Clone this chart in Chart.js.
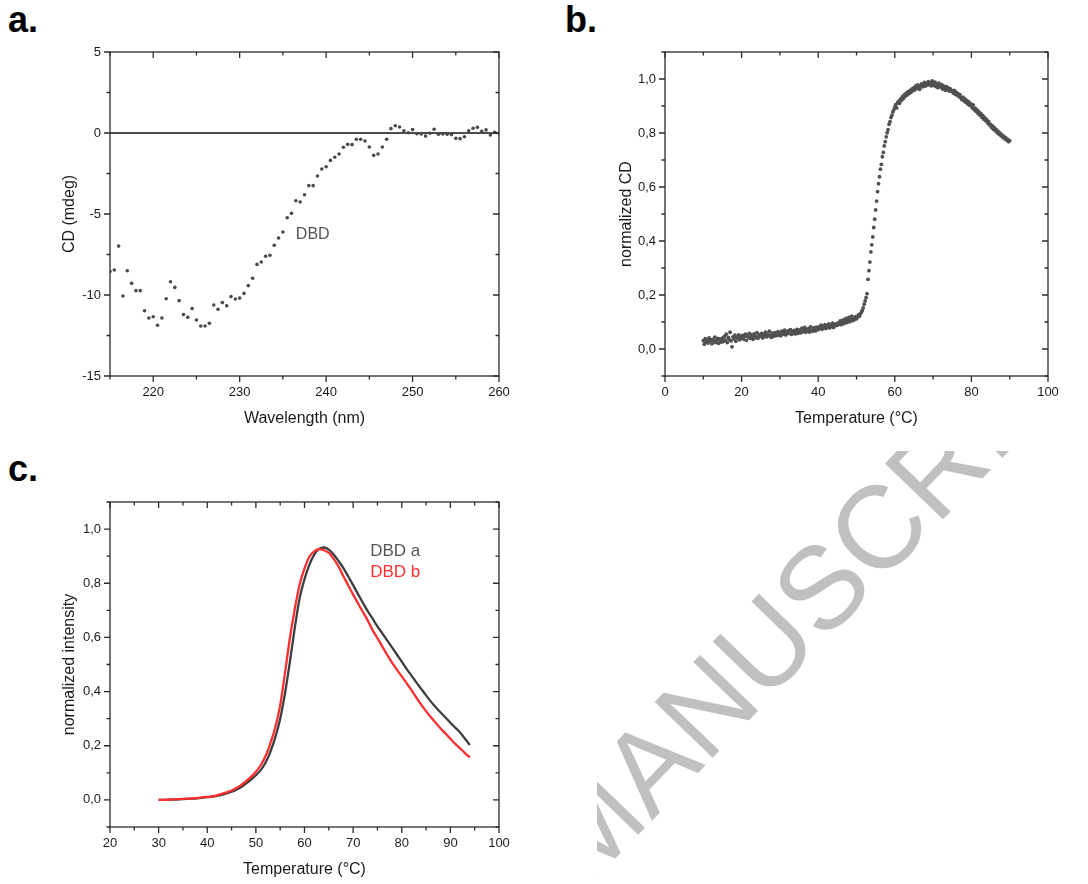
<!DOCTYPE html>
<html>
<head>
<meta charset="utf-8">
<script src="https://cdn.jsdelivr.net/npm/chart.js@4.4.1/dist/chart.umd.min.js"></script>
<style>
  body { margin: 0; background: #fff; width: 1088px; height: 884px; overflow: hidden; position: relative; font-family: "Liberation Sans", Arial, sans-serif; }
  .panel-label { position: absolute; font-weight: bold; font-size: 36px; line-height: 1; color: #000; }
  canvas { position: absolute; }
  svg { position: absolute; left: 0; top: 0; }
</style>
</head>
<body>
<svg width="1088" height="884">
  <defs><clipPath id="wmClip"><rect x="597" y="451" width="491" height="433"/></clipPath></defs>
  <g clip-path="url(#wmClip)">
    <text x="584" y="891" transform="rotate(-46 584 891)" font-family="Liberation Sans, Arial, sans-serif" font-size="117" fill="#c0c0c0">MANUSCRIPT</text>
  </g>
</svg>
<div class="panel-label" style="left:8px;top:2px">a.</div>
<div class="panel-label" style="left:565px;top:2px">b.</div>
<div class="panel-label" style="left:8px;top:451px">c.</div>
<canvas id="chartA" width="520" height="392" style="left:0;top:40px"></canvas>
<canvas id="chartB" width="532" height="392" style="left:556px;top:40px"></canvas>
<canvas id="chartC" width="520" height="393" style="left:0;top:490px"></canvas>
<script>
// panel a: CD spectrum
const wavelengthA = [215, 215.5, 216, 216.5, 217, 217.5, 218, 218.5, 219, 219.5,
  220, 220.5, 221, 221.5, 222, 222.5, 223, 223.5, 224, 224.5,
  225, 225.5, 226, 226.5, 227, 227.5, 228, 228.5, 229, 229.5,
  230, 230.5, 231, 231.5, 232, 232.5, 233, 233.5, 234, 234.5,
  235, 235.5, 236, 236.5, 237, 237.5, 238, 238.5, 239, 239.5,
  240, 240.5, 241, 241.5, 242, 242.5, 243, 243.5, 244, 244.5,
  245, 245.5, 246, 246.5, 247, 247.5, 248, 248.5, 249, 249.5,
  250, 250.5, 251, 251.5, 252, 252.5, 253, 253.5, 254, 254.5,
  255, 255.5, 256, 256.5, 257, 257.5, 258, 258.5, 259, 259.5, 260]
const cdA = [-8.55, -8.46, -6.98, -10.06, -8.50, -9.28, -9.73, -9.73, -10.97, -11.42,
  -11.34, -11.87, -11.42, -10.23, -9.18, -9.53, -10.35, -11.21, -11.38, -10.84,
  -11.54, -11.91, -11.91, -11.75, -10.62, -10.88, -10.47, -10.66, -10.10, -10.25,
  -10.19, -9.90, -9.42, -8.97, -8.11, -7.96, -7.61, -7.55, -6.93, -6.48,
  -6.11, -5.23, -4.96, -4.18, -4.26, -3.81, -3.25, -3.25, -2.65, -2.22,
  -2.08, -1.69, -1.50, -1.30, -0.88, -0.70, -0.72, -0.39, -0.39, -0.49,
  -0.86, -1.38, -1.30, -0.86, -0.39, 0.27, 0.45, 0.37, 0.14, 0.02,
  0.21, -0.04, -0.06, -0.19, -0.02, 0.23, -0.08, -0.06, -0.08, -0.10,
  -0.33, -0.35, -0.23, 0.14, 0.29, 0.35, 0.10, 0.19, -0.12, 0.04, -0.02]
const xTicksA = [220, 230, 240, 250, 260]
const yTicksA = [-15, -10, -5, 0, 5]

// panel b: thermal melt, scan from 10 to 90 °C every 0.25 °C
const scanStartB = 10
const scanStepB = 0.25
const normCdB = [
  0.031, 0.018, 0.038, 0.025, 0.034, 0.022, 0.041, 0.029, 0.035, 0.019, 0.036, 0.027, 0.044, 0.024, 0.032, 0.039, 0.021, 0.037, 0.030, 0.026,
  0.040, 0.028, 0.047, 0.033, 0.055, 0.024, 0.043, 0.036, 0.062, 0.030, 0.008, 0.045, 0.038, 0.051, 0.029, 0.044, 0.040, 0.052, 0.034, 0.046,
  0.041, 0.050, 0.037, 0.047, 0.055, 0.032, 0.048, 0.044, 0.058, 0.039, 0.052, 0.045, 0.036, 0.056, 0.049, 0.042, 0.061, 0.040, 0.053, 0.047,
  0.050, 0.058, 0.041, 0.054, 0.047, 0.062, 0.045, 0.055, 0.049, 0.066, 0.051, 0.043, 0.059, 0.053, 0.047, 0.061, 0.055, 0.050, 0.064, 0.052,
  0.058, 0.049, 0.066, 0.055, 0.061, 0.070, 0.052, 0.063, 0.057, 0.068, 0.059, 0.072, 0.054, 0.065, 0.060, 0.069, 0.056, 0.063, 0.073, 0.058,
  0.066, 0.071, 0.060, 0.077, 0.064, 0.069, 0.080, 0.062, 0.073, 0.068, 0.075, 0.063, 0.082, 0.070, 0.066, 0.078, 0.072, 0.067, 0.081, 0.074,
  0.071, 0.082, 0.077, 0.088, 0.073, 0.084, 0.079, 0.090, 0.076, 0.086, 0.081, 0.093, 0.078, 0.089, 0.084, 0.096, 0.080, 0.091, 0.087, 0.094,
  0.088, 0.097, 0.092, 0.104, 0.090, 0.099, 0.108, 0.094, 0.102, 0.113, 0.098, 0.106, 0.117, 0.101, 0.110, 0.122, 0.105, 0.114, 0.109, 0.120,
  0.112, 0.118, 0.126, 0.121, 0.130, 0.136, 0.143, 0.152, 0.166, 0.178, 0.190, 0.205, 0.258, 0.290, 0.322, 0.360, 0.386, 0.415, 0.450, 0.481,
  0.515, 0.548, 0.583, 0.612, 0.638, 0.666, 0.684, 0.712, 0.728, 0.752, 0.768, 0.786, 0.801, 0.812, 0.832, 0.842, 0.857, 0.866, 0.878, 0.886,
  0.897, 0.905, 0.893, 0.912, 0.918, 0.910, 0.926, 0.921, 0.935, 0.928, 0.942, 0.936, 0.948, 0.941, 0.953, 0.946, 0.958, 0.951, 0.963, 0.957,
  0.968, 0.960, 0.974, 0.965, 0.978, 0.970, 0.962, 0.976, 0.982, 0.971, 0.979, 0.987, 0.974, 0.983, 0.977, 0.990, 0.980, 0.985, 0.975, 0.993,
  0.983, 0.976, 0.988, 0.972, 0.980, 0.968, 0.985, 0.975, 0.970, 0.979, 0.963, 0.974, 0.968, 0.958, 0.972, 0.962, 0.967, 0.955, 0.963, 0.958,
  0.955, 0.948, 0.958, 0.944, 0.951, 0.940, 0.946, 0.935, 0.942, 0.930, 0.924, 0.933, 0.920, 0.927, 0.914, 0.921, 0.908, 0.916, 0.903, 0.910,
  0.900, 0.893, 0.904, 0.886, 0.892, 0.880, 0.886, 0.872, 0.878, 0.866, 0.872, 0.858, 0.864, 0.851, 0.857, 0.845, 0.849, 0.837, 0.842, 0.830,
  0.832, 0.821, 0.826, 0.814, 0.820, 0.808, 0.812, 0.801, 0.806, 0.795, 0.799, 0.789, 0.793, 0.783, 0.787, 0.778, 0.782, 0.773, 0.776, 0.768,
  0.772]
const xTicksB = [0, 20, 40, 60, 80, 100]
const yTicksNorm = [0, 0.2, 0.4, 0.6, 0.8, 1.0]

// panel c: intensity curves
const tempC = [30, 31, 32, 33, 34, 35, 36, 37, 38, 39, 40, 41, 42, 43, 44, 45, 46, 47, 48, 49,
  50, 51, 52, 53, 54, 55, 56, 57, 58, 59, 60, 61, 62, 63, 64, 65, 66, 67, 68, 69,
  70, 71, 72, 73, 74, 75, 76, 77, 78, 79, 80, 81, 82, 83, 84, 85, 86, 87, 88, 89,
  90, 91, 92, 93, 94]
const dbdA = [0.000, 0.000, 0.001, 0.001, 0.002, 0.003, 0.004, 0.005, 0.006, 0.008,
  0.010, 0.012, 0.015, 0.019, 0.024, 0.030, 0.038, 0.048, 0.061, 0.075,
  0.091, 0.110, 0.138, 0.178, 0.232, 0.300, 0.395, 0.510, 0.635, 0.745,
  0.815, 0.868, 0.906, 0.927, 0.932, 0.924, 0.906, 0.882, 0.856, 0.825,
  0.793, 0.760, 0.728, 0.697, 0.669, 0.641, 0.615, 0.589, 0.563, 0.537,
  0.511, 0.484, 0.459, 0.434, 0.410, 0.386, 0.363, 0.342, 0.323, 0.304,
  0.285, 0.267, 0.249, 0.226, 0.203]
const dbdB = [0.000, 0.000, 0.001, 0.002, 0.003, 0.004, 0.005, 0.006, 0.007, 0.009,
  0.011, 0.013, 0.017, 0.022, 0.028, 0.035, 0.044, 0.055, 0.069, 0.085,
  0.104, 0.128, 0.162, 0.210, 0.268, 0.350, 0.470, 0.598, 0.705, 0.795,
  0.855, 0.898, 0.918, 0.926, 0.922, 0.912, 0.890, 0.862, 0.826, 0.792,
  0.758, 0.726, 0.694, 0.663, 0.627, 0.597, 0.566, 0.536, 0.507, 0.481,
  0.456, 0.431, 0.405, 0.378, 0.352, 0.328, 0.305, 0.284, 0.264, 0.245,
  0.226, 0.207, 0.190, 0.173, 0.157]
const xTicksC = [20, 30, 40, 50, 60, 70, 80, 90, 100]

const FONT = '"Liberation Sans", Arial, sans-serif'
const INK = '#1a1a1a'
const comma = v => v.toFixed(1).replace('.', ',')

// box frame with major/minor ticks on all four sides (outward bottom/left, inward top/right)
const frameTicks = {
  id: 'frameTicks',
  beforeDatasetsDraw(chart, args, opts) {
    const { ctx, chartArea: a, scales: { y } } = chart
    if (opts.zeroLine) {
      const p = y.getPixelForValue(0)
      ctx.save()
      ctx.strokeStyle = '#111'
      ctx.lineWidth = 1.6
      ctx.beginPath()
      ctx.moveTo(a.left, p)
      ctx.lineTo(a.right, p)
      ctx.stroke()
      ctx.restore()
    }
  },
  afterDatasetsDraw(chart, args, opts) {
    const { ctx, chartArea: a, scales: { x, y } } = chart
    ctx.save()
    ctx.strokeStyle = '#2b2b2b'
    ctx.lineWidth = 1.3
    ctx.strokeRect(a.left, a.top, a.right - a.left, a.bottom - a.top)
    const marks = (scale, minor, major, draw) => {
      const start = Math.ceil(scale.min / minor - 1e-9) * minor
      for (let v = start; v <= scale.max + 1e-9; v += minor) {
        const isMajor = Math.abs(v / major - Math.round(v / major)) < 1e-6
        draw(scale.getPixelForValue(v), isMajor ? 6 : 3.5)
      }
    }
    ctx.beginPath()
    marks(x, opts.xMinor, opts.xMajor, (p, len) => {
      ctx.moveTo(p, a.bottom); ctx.lineTo(p, a.bottom + len)
      ctx.moveTo(p, a.top); ctx.lineTo(p, a.top + len)
    })
    marks(y, opts.yMinor, opts.yMajor, (p, len) => {
      ctx.moveTo(a.left - len, p); ctx.lineTo(a.left, p)
      ctx.moveTo(a.right - len, p); ctx.lineTo(a.right, p)
    })
    ctx.stroke()
    ctx.restore()
  }
}

const noteText = {
  id: 'noteText',
  afterDatasetsDraw(chart, args, opts) {
    const { ctx, scales: { x, y } } = chart
    ;(opts.items || []).forEach(n => {
      ctx.save()
      ctx.font = n.size + 'px ' + FONT
      ctx.fillStyle = n.color
      ctx.textAlign = 'left'
      ctx.textBaseline = 'middle'
      ctx.fillText(n.text, x.getPixelForValue(n.x), y.getPixelForValue(n.y))
      ctx.restore()
    })
  }
}

function xAxis(min, max, ticks, title, fmt) {
  return {
    type: 'linear', min, max,
    border: { display: false },
    grid: { display: false, drawTicks: true, tickLength: 6 },
    afterBuildTicks: s => { s.ticks = ticks.map(v => ({ value: v })) },
    afterFit: s => { s.height = 56 },
    ticks: { color: INK, font: { family: FONT, size: 13 }, padding: 3, maxRotation: 0, autoSkip: false, callback: fmt },
    title: { display: true, text: title, color: INK, font: { family: FONT, size: 16 }, padding: { top: 4, bottom: 4 } }
  }
}

function yAxis(min, max, ticks, title, fmt, width) {
  return {
    type: 'linear', min, max,
    border: { display: false },
    grid: { display: false, drawTicks: true, tickLength: 6 },
    afterBuildTicks: s => { s.ticks = ticks.map(v => ({ value: v })) },
    afterFit: s => { s.width = width },
    ticks: { color: INK, font: { family: FONT, size: 13 }, padding: 3, autoSkip: false, callback: fmt },
    title: { display: true, text: title, color: INK, font: { family: FONT, size: 16 }, padding: { top: 4, bottom: 4 } }
  }
}

function baseOptions(padding, scales, frame, notes) {
  return {
    responsive: false,
    animation: false,
    devicePixelRatio: 1,
    layout: { padding },
    scales,
    plugins: {
      legend: { display: false },
      tooltip: { enabled: false },
      frameTicks: frame,
      noteText: { items: notes }
    }
  }
}

new Chart(document.getElementById('chartA'), {
  type: 'scatter',
  data: {
    datasets: [{
      label: 'DBD',
      data: wavelengthA.map((w, i) => ({ x: w, y: cdA[i] })),
      pointRadius: 1.8,
      pointBorderWidth: 0,
      backgroundColor: '#4a4a4a'
    }]
  },
  options: baseOptions(
    { left: 56, top: 12, right: 21, bottom: 0 },
    {
      x: xAxis(215, 260, xTicksA, 'Wavelength (nm)', v => String(v)),
      y: yAxis(-15, 5, yTicksA, 'CD (mdeg)', v => String(v), 54)
    },
    { xMajor: 10, xMinor: 5, yMajor: 5, yMinor: 2.5, zeroLine: true },
    [{ text: 'DBD', x: 236.5, y: -6.3, size: 16, color: '#555' }]
  ),
  plugins: [frameTicks, noteText]
})

new Chart(document.getElementById('chartB'), {
  type: 'scatter',
  data: {
    datasets: [{
      label: 'normalized CD',
      data: normCdB.map((v, i) => ({ x: scanStartB + i * scanStepB, y: v })),
      pointRadius: 1.9,
      pointBorderWidth: 0,
      backgroundColor: '#505050'
    }]
  },
  options: baseOptions(
    { left: 57, top: 12, right: 40, bottom: 0 },
    {
      x: xAxis(0, 100, xTicksB, 'Temperature (°C)', v => String(v)),
      y: yAxis(-0.1, 1.1, yTicksNorm, 'normalized CD', comma, 52)
    },
    { xMajor: 20, xMinor: 10, yMajor: 0.2, yMinor: 0.1 },
    []
  ),
  plugins: [frameTicks, noteText]
})

new Chart(document.getElementById('chartC'), {
  type: 'line',
  data: {
    datasets: [
      {
        label: 'DBD a',
        data: tempC.map((t, i) => ({ x: t, y: dbdA[i] })),
        borderColor: '#3d3d3d',
        borderWidth: 2.3,
        pointRadius: 0,
        cubicInterpolationMode: 'monotone',
        order: 2
      },
      {
        label: 'DBD b',
        data: tempC.map((t, i) => ({ x: t, y: dbdB[i] })),
        borderColor: '#ff2e2e',
        borderWidth: 2.3,
        pointRadius: 0,
        cubicInterpolationMode: 'monotone',
        order: 1
      }
    ]
  },
  options: baseOptions(
    { left: 56, top: 12, right: 21, bottom: 0 },
    {
      x: xAxis(20, 100, xTicksC, 'Temperature (°C)', v => String(v)),
      y: yAxis(-0.1, 1.1, yTicksNorm, 'normalized intensity', comma, 54)
    },
    { xMajor: 10, xMinor: 5, yMajor: 0.2, yMinor: 0.1 },
    [
      { text: 'DBD a', x: 73.5, y: 0.917, size: 17, color: '#555' },
      { text: 'DBD b', x: 73.5, y: 0.839, size: 17, color: '#ff2e2e' }
    ]
  ),
  plugins: [frameTicks, noteText]
})
</script>
</body>
</html>
